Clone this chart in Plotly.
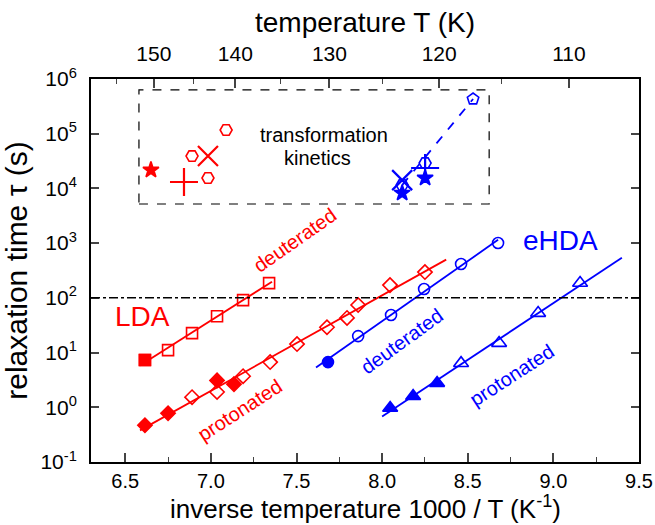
import numpy as np
import plotly.graph_objects as go

RED = "#ff0000"
BLUE = "#0000ff"
FONT = "Liberation Sans, Arial, sans-serif"

# ---------------- data ----------------
# LDA deuterated (open squares, first one filled)
lda_d_x = [6.615, 6.75, 6.89, 7.036, 7.188, 7.34]
lda_d_y = [7.3, 11.1, 22.7, 46, 91, 186]
# LDA protonated
lda_pf_x = [6.615, 6.75, 7.036, 7.135]
lda_pf_y = [0.47, 0.78, 3.1, 2.65]
lda_po_x = [6.89, 7.036, 7.188, 7.346, 7.503, 7.678, 7.795, 7.86, 8.046, 8.25]
lda_po_y = [1.53, 1.9, 3.7, 6.7, 14.3, 29, 43, 74, 171, 296]
# eHDA deuterated
ehda_df_x = [7.684]
ehda_df_y = [6.7]
ehda_do_x = [7.86, 8.052, 8.245, 8.461, 8.677]
ehda_do_y = [20, 48.5, 145, 415, 1005]
# eHDA protonated
ehda_pf_x = [8.047, 8.181, 8.321]
ehda_pf_y = [0.97, 1.6, 2.77]
ehda_po_x = [8.461, 8.683, 8.911, 9.156]
ehda_po_y = [6.4, 14.9, 52.7, 187]

# fit-line extents (x)
lda_d_fit = [6.586, 7.357]
lda_p_fit = [6.586, 8.374]
ehda_d_fit = [7.614, 8.677]
ehda_p_fit = [8.0, 9.40]

# transformation kinetics (red)
kin_r_sym = ["star", "cross-thin-open", "hexagon2-open", "x-thin-open", "hexagon2-open", "hexagon2-open"]
kin_r_x = [6.65, 6.843, 6.89, 6.983, 6.983, 7.089]
kin_r_y = [21700, 13100, 39100, 39100, 15500, 117000]
# transformation kinetics (blue)
kin_b_sym = ["x-thin-open", "hexagon2-open", "star", "hexagon2-open", "cross-thin-open", "star", "pentagon-open"]
kin_b_x = [8.117, 8.117, 8.117, 8.251, 8.251, 8.251, 8.531]
kin_b_y = [14200, 11500, 8240, 29100, 23600, 15500, 430000]

# top axis temperatures
temp_major = [150, 140, 130, 120, 110]
temp_minor = [155, 145, 135, 125, 115]

y_ticks_exp = [-1, 0, 1, 2, 3, 4, 5, 6]


def fit_line(xs, ys, xr):
    k, b = np.polyfit(np.array(xs), np.log10(np.array(ys)), 1)
    xx = np.array(xr)
    return xx, 10 ** (k * xx + b)


fig = go.Figure()

def add_line(xs, ys, xr, color):
    lx, ly = fit_line(xs, ys, xr)
    fig.add_trace(go.Scatter(x=lx, y=ly, mode="lines", line=dict(color=color, width=1.8),
                             showlegend=False, hoverinfo="skip"))

def add_markers(xs, ys, sym, color, size, lw=1.6):
    fig.add_trace(go.Scatter(x=xs, y=ys, mode="markers",
                             marker=dict(symbol=sym, size=size, color=color,
                                         line=dict(color=color, width=lw)),
                             showlegend=False))

# fit lines
add_line(lda_d_x, lda_d_y, lda_d_fit, RED)
add_line(lda_pf_x + lda_po_x, lda_pf_y + lda_po_y, lda_p_fit, RED)
add_line(ehda_df_x + ehda_do_x, ehda_df_y + ehda_do_y, ehda_d_fit, BLUE)
add_line(ehda_pf_x + ehda_po_x, ehda_pf_y + ehda_po_y, ehda_p_fit, BLUE)

# markers
add_markers(lda_d_x, lda_d_y, "square-open", RED, 11)
add_markers(lda_d_x[:1], lda_d_y[:1], "square", RED, 11)
add_markers(lda_po_x, lda_po_y, "diamond-open", RED, 11)
add_markers(lda_pf_x, lda_pf_y, "diamond", RED, 11)
add_markers(ehda_do_x, ehda_do_y, "circle-open", BLUE, 11)
add_markers(ehda_df_x, ehda_df_y, "circle", BLUE, 11)
add_markers(ehda_po_x, ehda_po_y, "triangle-up-open", BLUE, 13)
add_markers(ehda_pf_x, ehda_pf_y, "triangle-up", BLUE, 13)

# kinetics dashed blue line
fig.add_trace(go.Scatter(x=[kin_b_x[1], kin_b_x[-1]], y=[kin_b_y[1], kin_b_y[-1]], mode="lines",
                         line=dict(color=BLUE, width=1.8, dash="dash"), showlegend=False))
for sx, sy, sm in zip(kin_r_x, kin_r_y, kin_r_sym):
    thin = "thin" in sm
    add_markers([sx], [sy], sm, RED, 20 if thin else 12, 2.2 if thin else 1.6)
for sx, sy, sm in zip(kin_b_x, kin_b_y, kin_b_sym):
    thin = "thin" in sm
    add_markers([sx], [sy], sm, BLUE, 20 if thin else 12, 2.2 if thin else 1.6)

# dummy traces for the top axes
fig.add_trace(go.Scatter(x=[6.3], y=[1], xaxis="x2", mode="markers", marker=dict(opacity=0),
                         showlegend=False, hoverinfo="skip"))
fig.add_trace(go.Scatter(x=[6.3], y=[1], xaxis="x3", mode="markers", marker=dict(opacity=0),
                         showlegend=False, hoverinfo="skip"))

XR = [6.3, 9.5]
YR = [-1, 6]

# dash-dot line at 100 s
fig.add_shape(type="line", xref="paper", x0=0, x1=1, yref="y", y0=100, y1=100,
              line=dict(color="black", width=1.5, dash="dashdot"))
# dashed box
fig.add_shape(type="rect", xref="x", yref="y", x0=6.58, x1=8.625, y0=10 ** 3.715, y1=10 ** 5.8,
              line=dict(color="black", width=1.2, dash="dash"))

ann = [
    dict(text="LDA", x=6.598, y=1.667, color=RED, size=28, angle=0),
    dict(text="eHDA", x=9.04, y=3.057, color=BLUE, size=28, angle=0),
    dict(text="deuterated", x=7.492, y=3.057, color=RED, size=20, angle=-35),
    dict(text="protonated", x=7.17, y=-0.051, color=RED, size=20, angle=-33),
    dict(text="deuterated", x=8.117, y=1.21, color=BLUE, size=20, angle=-36),
    dict(text="protonated", x=8.759, y=0.589, color=BLUE, size=20, angle=-33),
]
for a in ann:
    fig.add_annotation(x=a["x"], y=a["y"], xref="x", yref="y", text=a["text"], showarrow=False,
                       textangle=a["angle"], font=dict(color=a["color"], size=a["size"], family=FONT))
fig.add_annotation(x=7.66, y=4.77, xref="x", yref="y", text="transformation", showarrow=False,
                   yshift=11, font=dict(color="black", size=20, family=FONT))
fig.add_annotation(x=7.62, y=4.77, xref="x", yref="y", text="kinetics", showarrow=False,
                   yshift=-12, font=dict(color="black", size=20, family=FONT))
# bottom axis title
fig.add_annotation(x=0.5, y=-0.165, xref="paper", yref="paper", yanchor="bottom", showarrow=False,
                   borderpad=0,
                   text="inverse temperature 1000 / T (K<sup>-1</sup>)",
                   font=dict(color="black", size=26, family=FONT))

tick_font = dict(family=FONT, size=21, color="black")
fig.update_layout(
    width=655, height=525,
    margin=dict(l=91, r=16, t=79, b=63),
    paper_bgcolor="white", plot_bgcolor="white",
    font=dict(family=FONT, color="black"),
    xaxis=dict(range=XR, showgrid=False, zeroline=False, showline=True, linecolor="black",
               linewidth=2, mirror=True, ticks="inside", ticklen=9, tickwidth=1.5, automargin=False,
               tickvals=[6.5, 7.0, 7.5, 8.0, 8.5, 9.0, 9.5], ticktext=["6.5", "7.0", "7.5", "8.0", "8.5", "9.0", "9.5"],
               minor=dict(dtick=0.25, tick0=6.25, ticks="inside", ticklen=5, tickwidth=1.2, showgrid=False),
               tickfont=dict(family=FONT, size=20, color="black"), ticklabelstandoff=0),
    xaxis2=dict(range=XR, overlaying="x", side="top", showgrid=False, zeroline=False, showline=False,
                ticks="inside", ticklen=9, tickwidth=1.5, automargin=False,
                tickvals=[1000 / t for t in temp_major], ticktext=[str(t) for t in temp_major],
                tickfont=tick_font, ticklabelstandoff=13,
                title=dict(text="temperature T (K)", font=dict(family=FONT, size=28), standoff=0)),
    xaxis3=dict(range=XR, overlaying="x", side="top", showgrid=False, zeroline=False, showline=False,
                ticks="inside", ticklen=5, tickwidth=1.2, automargin=False,
                tickvals=[1000 / t for t in temp_minor], showticklabels=False),
    yaxis=dict(type="log", range=YR, showgrid=False, zeroline=False, showline=True, linecolor="black",
               linewidth=2, mirror="ticks", ticks="inside", ticklen=8, tickwidth=1.5, automargin=False,
               tickvals=[10 ** e for e in y_ticks_exp],
               ticktext=["10<sup>%d</sup>" % e for e in y_ticks_exp],
               tickfont=tick_font, ticklabelstandoff=8,
               title=dict(text="relaxation time τ (s)", font=dict(family=FONT, size=30), standoff=4)),
)

fig.write_html("out.html")
